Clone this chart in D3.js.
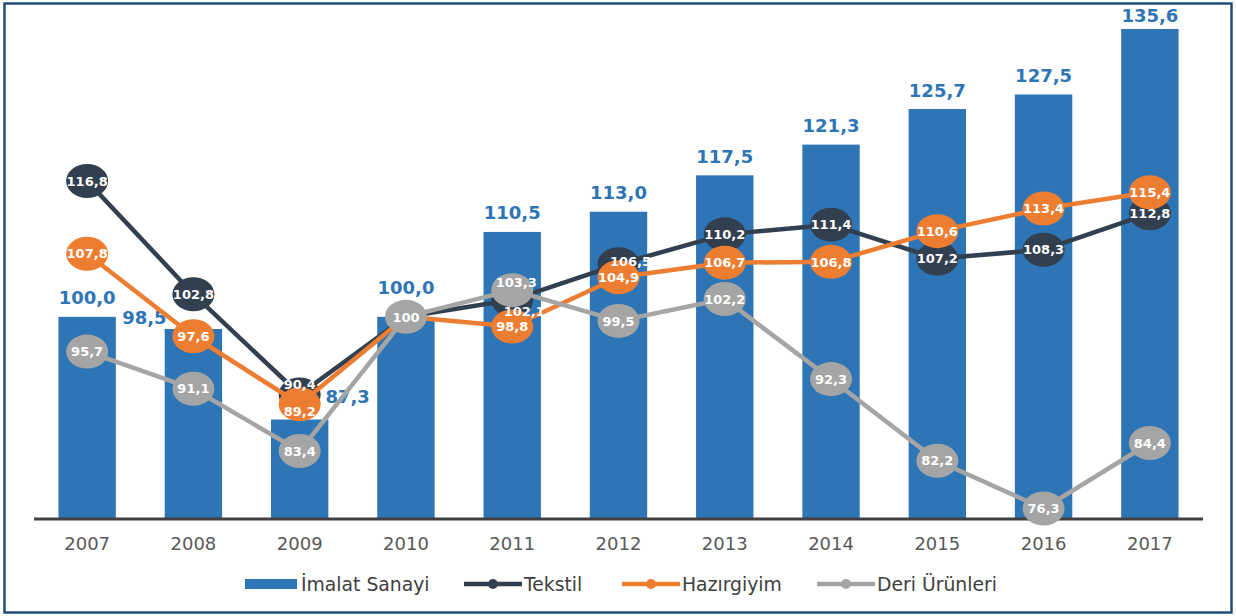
<!DOCTYPE html>
<html><head><meta charset="utf-8">
<script src="https://cdn.jsdelivr.net/npm/d3@7"></script>
<style>html,body{margin:0;padding:0;background:#fff;}svg{display:block;}</style>
</head><body>
<svg id="chart" width="1236" height="616"></svg>
<script>
const years = ["2007","2008","2009","2010","2011","2012","2013","2014","2015","2016","2017"];
const imalat = [100.0, 98.5, 87.3, 100.0, 110.5, 113.0, 117.5, 121.3, 125.7, 127.5, 135.6];
const tekstil = [116.8, 102.8, 90.4, 100, 102.1, 106.5, 110.2, 111.4, 107.2, 108.3, 112.8];
const hazirgiyim = [107.8, 97.6, 89.2, 100, 98.8, 104.9, 106.7, 106.8, 110.6, 113.4, 115.4];
const deri = [95.7, 91.1, 83.4, 100, 103.3, 99.5, 102.2, 92.3, 82.2, 76.3, 84.4];
const imalatLabels = ["100,0","98,5","87,3","100,0","110,5","113,0","117,5","121,3","125,7","127,5","135,6"];
const tekstilLabels = ["116,8","102,8","90,4",null,"102,1","106,5","110,2","111,4","107,2","108,3","112,8"];
const hazirLabels = ["107,8","97,6","89,2",null,"98,8","104,9","106,7","106,8","110,6","113,4","115,4"];
const deriLabels = ["95,7","91,1","83,4","100","103,3","99,5","102,2","92,3","82,2","76,3","84,4"];
const seriesNames = ["İmalat Sanayi","Tekstil","Hazırgiyim","Deri Ürünleri"];

// label nudges (style, not data)
const barLabelNudge = [[0,0],[-49,8],[48,-4],[0,-10],[0,0],[0,0],[0,0],[0,0],[0,0],[0,0],[0,6]];
const tekNudge = [[0,0],[0,0],[0,-10],[0,0],[12,11],[12,-3],[0,0],[0,0],[0,0],[0,0],[0,0]];
const hazNudge = [[0,0],[0,0],[0,7],[0,0],[0,0],[0,0],[0,0],[0,0],[0,0],[0,0],[0,0]];
const deriNudge = [[0,0],[0,0],[0,0],[0,0],[4,-8],[0,0],[0,0],[0,0],[0,0],[0,0],[0,0]];

const svg = d3.select("#chart");
const font = "'DejaVu Sans', Verdana, sans-serif";

const x = d3.scaleBand().domain(years).range([34, 1203]).paddingInner(0.46).paddingOuter(0.23);
const y = d3.scaleLinear().domain([75, 140]).range([519, -6.6]);
const cx = d => x(d) + x.bandwidth() / 2;

// frame
svg.append("rect").attr("x", 4.5).attr("y", 3.5).attr("width", 1227).attr("height", 609)
  .attr("fill", "#fff").attr("stroke", "#1F4E79").attr("stroke-width", 2.5);

// bars
svg.append("g").selectAll("rect").data(years).join("rect")
  .attr("x", d => x(d)).attr("width", x.bandwidth())
  .attr("y", (d, i) => y(imalat[i])).attr("height", (d, i) => y(75) - y(imalat[i]))
  .attr("fill", "#2E75B6");

// baseline axis
const xAxis = d3.axisBottom(x).tickSize(0).tickPadding(0);
const axG = svg.append("g").attr("transform", `translate(0,${y(75)})`).call(xAxis);
axG.select(".domain").attr("stroke", "#404040").attr("stroke-width", 3).attr("d", "M34,0H1203");
axG.selectAll("text").attr("font-family", font).attr("font-size", 18).attr("fill", "#595959")
  .attr("dy", null).attr("y", 31);

// bar labels
svg.append("g").selectAll("text").data(years).join("text")
  .attr("x", (d, i) => cx(d) + barLabelNudge[i][0])
  .attr("y", (d, i) => y(imalat[i]) - 19 + barLabelNudge[i][1])
  .attr("dy", "0.36em").attr("text-anchor", "middle")
  .attr("font-family", font).attr("font-weight", "bold").attr("font-size", 18)
  .attr("fill", "#2E75B6").text((d, i) => imalatLabels[i]);

const series = [
  {vals: tekstil, labels: tekstilLabels, nudge: tekNudge, color: "#323F4F", showMarker: [1,1,1,0,1,1,1,1,1,1,1]},
  {vals: hazirgiyim, labels: hazirLabels, nudge: hazNudge, color: "#ED7D31", showMarker: [1,1,1,0,1,1,1,1,1,1,1]},
  {vals: deri, labels: deriLabels, nudge: deriNudge, color: "#A5A5A5", showMarker: [1,1,1,1,1,1,1,1,1,1,1]}
];

const line = d3.line().x(d => cx(d.year)).y(d => y(d.v));
series.forEach(s => {
  const pts = years.map((yr, i) => ({year: yr, v: s.vals[i], i}));
  const g = svg.append("g");
  g.append("path").datum(pts).attr("d", line).attr("fill", "none")
    .attr("stroke", s.color).attr("stroke-width", 4.5).attr("stroke-linejoin", "round");
  g.selectAll("ellipse").data(pts.filter(p => s.showMarker[p.i])).join("ellipse")
    .attr("cx", p => cx(p.year)).attr("cy", p => y(p.v)).attr("rx", 21).attr("ry", 17)
    .attr("fill", s.color);
});
series.forEach(s => {
  const pts = years.map((yr, i) => ({year: yr, v: s.vals[i], i})).filter(p => s.labels[p.i]);
  svg.append("g").selectAll("text").data(pts).join("text")
    .attr("x", p => cx(p.year) + s.nudge[p.i][0])
    .attr("y", p => y(p.v) + s.nudge[p.i][1])
    .attr("dy", "0.36em").attr("text-anchor", "middle")
    .attr("font-family", font).attr("font-weight", "bold").attr("font-size", 13)
    .attr("fill", "#fff").text(p => s.labels[p.i]);
});

// legend
const legendY = 584;
const leg = svg.append("g");
const legItems = [
  {name: seriesNames[0], type: "bar", color: "#2E75B6", x0: 245, x1: 297, tx: 301},
  {name: seriesNames[1], type: "line", color: "#323F4F", x0: 464, x1: 522, tx: 524},
  {name: seriesNames[2], type: "line", color: "#ED7D31", x0: 622, x1: 680, tx: 682},
  {name: seriesNames[3], type: "line", color: "#A5A5A5", x0: 817, x1: 875, tx: 877}
];
legItems.forEach(it => {
  if (it.type === "bar") {
    leg.append("rect").attr("x", it.x0).attr("y", legendY - 5).attr("width", it.x1 - it.x0).attr("height", 10).attr("fill", it.color);
  } else {
    leg.append("line").attr("x1", it.x0).attr("x2", it.x1).attr("y1", legendY).attr("y2", legendY)
      .attr("stroke", it.color).attr("stroke-width", 4.5);
    leg.append("circle").attr("cx", (it.x0 + it.x1) / 2).attr("cy", legendY).attr("r", 5).attr("fill", it.color);
  }
  leg.append("text").attr("x", it.tx).attr("y", legendY).attr("dy", "0.36em")
    .attr("font-family", font).attr("font-size", 18.8).attr("fill", "#404040").text(it.name);
});
</script>
</body></html>
